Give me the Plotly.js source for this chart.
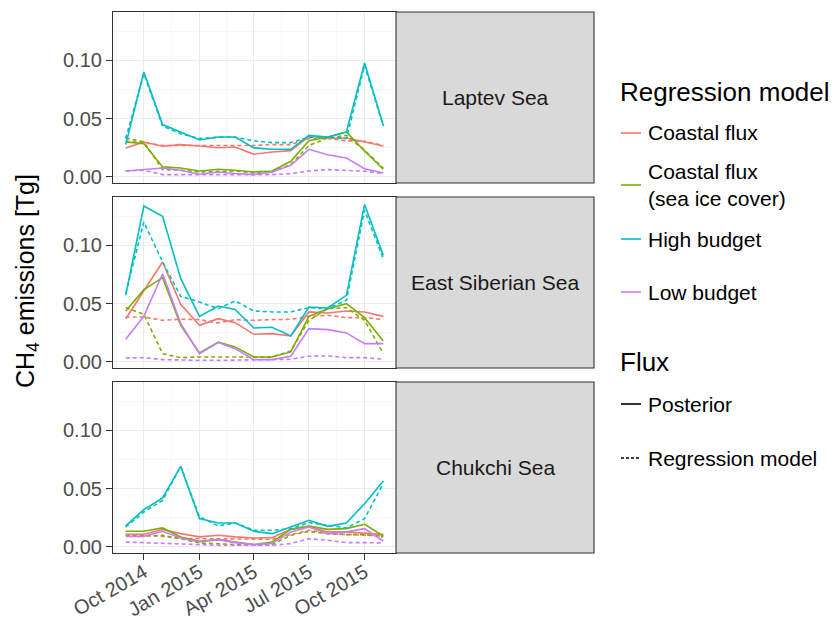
<!DOCTYPE html>
<html>
<head>
<meta charset="utf-8">
<script src="https://cdn.plot.ly/plotly-3.0.1.min.js"></script>
<style>html,body{margin:0;padding:0;background:#fff;}</style>
</head>
<body>
<div id="chart" style="width:835px;height:620px;"></div>
<script>
// ---------- DATA ----------
const months = ['2014-09-01','2014-10-01','2014-11-01','2014-12-01','2015-01-01','2015-02-01','2015-03-01',
  '2015-04-01','2015-05-01','2015-06-01','2015-07-01','2015-08-01','2015-09-01','2015-10-01','2015-11-01'];

const regions = ['Laptev Sea', 'East Siberian Sea', 'Chukchi Sea'];
const models = ['Coastal flux', 'Coastal flux<br>(sea ice cover)', 'High budget', 'Low budget'];
const modelColors = ['#F8766D', '#7CAE00', '#00BFC4', '#C77CFF'];
const fluxTypes = ['Posterior', 'Regression model'];

const xTickVals = ['2014-10-01','2015-01-01','2015-04-01','2015-07-01','2015-10-01'];
const xTickText = ['Oct 2014','Jan 2015','Apr 2015','Jul 2015','Oct 2015'];
const xMinorVals = ['2014-08-16','2014-11-16','2015-02-15','2015-05-16','2015-08-16','2015-11-16'];
const yTickVals = [0, 0.05, 0.10];
const yTickText = ['0.00', '0.05', '0.10'];
const yMinorVals = [0.025, 0.075, 0.125];

// Laptev Sea
const laptevCoastalPost = [0.0249,0.0300,0.0263,0.0277,0.0266,0.0251,0.0257,0.0194,0.0214,0.0226,0.0349,0.0334,0.0334,0.0300,0.0266];
const laptevCoastalReg  = [0.0306,0.0294,0.0270,0.0270,0.0270,0.0270,0.0270,0.0270,0.0277,0.0277,0.0330,0.0330,0.0310,0.0306,0.0270];
const laptevIcePost     = [0.0300,0.0286,0.0086,0.0077,0.0051,0.0066,0.0057,0.0043,0.0051,0.0134,0.0310,0.0340,0.0386,0.0223,0.0066];
const laptevIceReg      = [0.0334,0.0300,0.0063,0.0057,0.0043,0.0049,0.0051,0.0034,0.0043,0.0106,0.0270,0.0334,0.0357,0.0230,0.0075];
const laptevHighPost    = [0.0277,0.0900,0.0449,0.0386,0.0317,0.0343,0.0343,0.0249,0.0237,0.0237,0.0357,0.0343,0.0386,0.0977,0.0443];
const laptevHighReg     = [0.0330,0.0886,0.0437,0.0370,0.0330,0.0340,0.0340,0.0310,0.0294,0.0294,0.0340,0.0340,0.0330,0.0957,0.0437];
const laptevLowPost     = [0.0051,0.0066,0.0077,0.0057,0.0023,0.0043,0.0029,0.0020,0.0043,0.0100,0.0237,0.0190,0.0163,0.0071,0.0034];
const laptevLowReg      = [0.0051,0.0057,0.0020,0.0020,0.0014,0.0014,0.0014,0.0014,0.0020,0.0029,0.0051,0.0063,0.0057,0.0049,0.0029];

// East Siberian Sea
const essCoastalPost = [0.0371,0.0614,0.0857,0.0494,0.0314,0.0371,0.0337,0.0237,0.0243,0.0223,0.0429,0.0420,0.0437,0.0429,0.0391];
const essCoastalReg  = [0.0386,0.0386,0.0357,0.0366,0.0363,0.0334,0.0363,0.0357,0.0363,0.0366,0.0391,0.0400,0.0380,0.0380,0.0363];
const essIcePost     = [0.0437,0.0620,0.0723,0.0314,0.0077,0.0171,0.0129,0.0043,0.0043,0.0086,0.0391,0.0457,0.0500,0.0380,0.0180];
const essIceReg      = [0.0466,0.0409,0.0071,0.0037,0.0043,0.0043,0.0043,0.0037,0.0043,0.0094,0.0357,0.0457,0.0466,0.0357,0.0071];
const essHighPost    = [0.0571,0.1337,0.1250,0.0714,0.0391,0.0480,0.0451,0.0291,0.0297,0.0223,0.0471,0.0463,0.0571,0.1351,0.0914];
const essHighReg     = [0.0586,0.1200,0.0857,0.0563,0.0514,0.0457,0.0523,0.0437,0.0429,0.0429,0.0466,0.0457,0.0529,0.1300,0.0886];
const essLowPost     = [0.0194,0.0391,0.0757,0.0329,0.0071,0.0166,0.0114,0.0020,0.0020,0.0049,0.0286,0.0277,0.0249,0.0157,0.0157];
const essLowReg      = [0.0034,0.0037,0.0020,0.0014,0.0014,0.0014,0.0014,0.0014,0.0020,0.0023,0.0049,0.0051,0.0037,0.0037,0.0023];

// Chukchi Sea
const chukCoastalPost = [0.0109,0.0109,0.0149,0.0114,0.0086,0.0100,0.0086,0.0077,0.0080,0.0151,0.0177,0.0129,0.0129,0.0120,0.0106];
const chukCoastalReg  = [0.0100,0.0100,0.0091,0.0071,0.0071,0.0071,0.0066,0.0066,0.0066,0.0106,0.0143,0.0114,0.0109,0.0100,0.0094];
const chukIcePost     = [0.0134,0.0134,0.0163,0.0086,0.0049,0.0063,0.0043,0.0020,0.0043,0.0151,0.0180,0.0151,0.0157,0.0194,0.0094];
const chukIceReg      = [0.0100,0.0094,0.0100,0.0071,0.0034,0.0029,0.0020,0.0014,0.0020,0.0100,0.0134,0.0114,0.0106,0.0106,0.0086];
const chukHighPost    = [0.0180,0.0320,0.0420,0.0691,0.0243,0.0206,0.0206,0.0134,0.0114,0.0171,0.0229,0.0177,0.0206,0.0371,0.0566];
const chukHighReg     = [0.0171,0.0300,0.0400,0.0691,0.0257,0.0180,0.0206,0.0143,0.0143,0.0157,0.0209,0.0186,0.0163,0.0243,0.0543];
const chukLowPost     = [0.0091,0.0091,0.0134,0.0077,0.0043,0.0063,0.0037,0.0020,0.0029,0.0129,0.0171,0.0114,0.0129,0.0157,0.0051];
const chukLowReg      = [0.0043,0.0037,0.0034,0.0029,0.0020,0.0014,0.0014,0.0014,0.0014,0.0029,0.0071,0.0057,0.0037,0.0037,0.0034];

const seriesByRegion = [
  [[laptevCoastalPost, laptevCoastalReg], [laptevIcePost, laptevIceReg], [laptevHighPost, laptevHighReg], [laptevLowPost, laptevLowReg]],
  [[essCoastalPost, essCoastalReg], [essIcePost, essIceReg], [essHighPost, essHighReg], [essLowPost, essLowReg]],
  [[chukCoastalPost, chukCoastalReg], [chukIcePost, chukIceReg], [chukHighPost, chukHighReg], [chukLowPost, chukLowReg]]
];

// ---------- LAYOUT ----------
const W = 835, H = 620;
const px = x => x / W;
const py = y => 1 - y / H;
const FONT = 'Liberation Sans, Arial, Helvetica, sans-serif';

const plotLeft = 113, plotRight = 396, stripRight = 594;
const panelTops = [12, 197, 382], panelH = 171;

const traces = [];
seriesByRegion.forEach((regionSeries, r) => {
  const ax = r === 0 ? '' : String(r + 1);
  regionSeries.forEach((pair, m) => {
    [1, 0].forEach(f => {
      traces.push({
        type: 'scatter', mode: 'lines',
        x: months, y: pair[f],
        xaxis: 'x' + ax, yaxis: 'y' + ax,
        line: {color: modelColors[m], width: 1.6, dash: f === 0 ? 'solid' : '4px,3px'},
        showlegend: false, hoverinfo: 'skip'
      });
    });
  });
});

const layout = {
  width: W, height: H, autosize: false,
  margin: {l: 0, r: 0, t: 0, b: 0},
  paper_bgcolor: '#ffffff', plot_bgcolor: '#ffffff',
  font: {family: FONT, color: '#000000'},
  showlegend: false,
  shapes: [], annotations: []
};

regions.forEach((name, r) => {
  const ax = r === 0 ? '' : String(r + 1);
  const top = panelTops[r], bot = top + panelH;
  const isBottom = r === 2;
  layout['xaxis' + ax] = {
    type: 'date', domain: [px(plotLeft), px(plotRight)],
    range: ['2014-08-11', '2015-11-22'],
    anchor: 'y' + ax, automargin: false,
    tickmode: 'array', tickvals: xTickVals, ticktext: xTickText,
    showticklabels: isBottom,
    ticks: isBottom ? 'outside' : '', ticklen: 6, tickcolor: '#333333', tickwidth: 1.1,
    tickangle: -30, ticklabelstandoff: -7,
    tickfont: {size: 20, color: '#4D4D4D', family: FONT},
    showgrid: true, gridcolor: '#EBEBEB', gridwidth: 1,
    minor: {tickmode: 'array', tickvals: xMinorVals, showgrid: true, gridcolor: '#F3F3F3', gridwidth: 0.7, ticks: ''},
    showline: true, mirror: true, linecolor: '#333333', linewidth: 1.1,
    zeroline: false, fixedrange: true
  };
  layout['yaxis' + ax] = {
    domain: [py(bot), py(top)], range: [-0.0052, 0.1415],
    anchor: 'x' + ax, automargin: false,
    tickmode: 'array', tickvals: yTickVals, ticktext: yTickText,
    ticks: 'outside', ticklen: 6, tickcolor: '#333333', tickwidth: 1.1,
    tickfont: {size: 20, color: '#4D4D4D', family: FONT},
    showgrid: true, gridcolor: '#EBEBEB', gridwidth: 1,
    minor: {tickmode: 'array', tickvals: yMinorVals, showgrid: true, gridcolor: '#F3F3F3', gridwidth: 0.7, ticks: ''},
    showline: true, mirror: true, linecolor: '#333333', linewidth: 1.1,
    zeroline: false, fixedrange: true
  };
  // strip
  layout.shapes.push({
    type: 'rect', xref: 'paper', yref: 'paper',
    x0: px(plotRight), x1: px(stripRight), y0: py(bot), y1: py(top),
    fillcolor: '#D9D9D9', line: {color: '#333333', width: 1.1}, layer: 'above'
  });
  layout.annotations.push({
    xref: 'paper', yref: 'paper', x: px((plotRight + stripRight) / 2), y: py(top + panelH / 2),
    text: name, showarrow: false, xanchor: 'center', yanchor: 'middle',
    font: {size: 21, color: '#1A1A1A', family: FONT}
  });
});

// y-axis title
layout.annotations.push({
  xref: 'paper', yref: 'paper', x: px(27), y: py(281),
  text: 'CH<sub>4</sub> emissions [Tg]', textangle: -90, showarrow: false,
  xanchor: 'center', yanchor: 'middle', font: {size: 25, color: '#000000', family: FONT}
});

// Legend (drawn manually)
const legX0 = 621, legX1 = 641, legText = 646;
layout.annotations.push({xref: 'paper', yref: 'paper', x: px(618), y: py(92), text: 'Regression model',
  showarrow: false, xanchor: 'left', yanchor: 'middle', font: {size: 26, family: FONT}});
const modelY = [133, 185, 239, 292];
models.forEach((m, i) => {
  layout.shapes.push({type: 'line', xref: 'paper', yref: 'paper', x0: px(legX0), x1: px(legX1),
    y0: py(modelY[i]), y1: py(modelY[i]), line: {color: modelColors[i], width: 1.6}});
  layout.annotations.push({xref: 'paper', yref: 'paper', x: px(legText), y: py(modelY[i]), text: m,
    showarrow: false, xanchor: 'left', yanchor: 'middle', align: 'left',
    font: {size: 21, family: FONT}});
});
layout.annotations.push({xref: 'paper', yref: 'paper', x: px(618), y: py(362), text: 'Flux',
  showarrow: false, xanchor: 'left', yanchor: 'middle', font: {size: 26, family: FONT}});
const fluxY = [404, 458];
fluxTypes.forEach((f, i) => {
  layout.shapes.push({type: 'line', xref: 'paper', yref: 'paper', x0: px(legX0), x1: px(legX1),
    y0: py(fluxY[i]), y1: py(fluxY[i]), line: {color: '#000000', width: 1.6, dash: i === 0 ? 'solid' : '3px,2px'}});
  layout.annotations.push({xref: 'paper', yref: 'paper', x: px(legText), y: py(fluxY[i]), text: f,
    showarrow: false, xanchor: 'left', yanchor: 'middle', font: {size: 21, family: FONT}});
});

Plotly.newPlot('chart', traces, layout, {displayModeBar: false, staticPlot: true});
</script>
</body>
</html>
